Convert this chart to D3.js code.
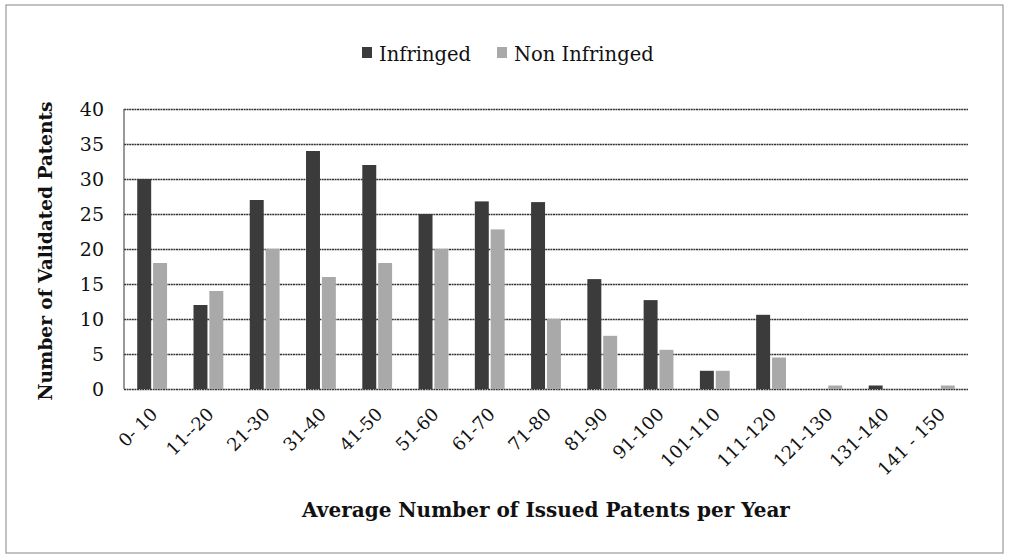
<!DOCTYPE html>
<html><head><meta charset="utf-8">
<script src="https://cdn.jsdelivr.net/npm/d3@7/dist/d3.min.js"></script>
<style>body{margin:0;background:#fff}svg{display:block}</style>
</head><body>
<script>
const categories = ["0- 10","11--20","21-30","31-40","41-50","51-60","61-70","71-80","81-90","91-100","101-110","111-120","121-130","131-140","141 - 150"];
const infringed = [30,12,27,34,32,25,26.8,26.7,15.7,12.7,2.6,10.6,0,0.5,0];
const nonInfringed = [18,14,20,16,18,20,22.8,10,7.6,5.6,2.6,4.5,0.5,0,0.5];
const yTicks = [0,5,10,15,20,25,30,35,40];
const seriesNames = ["Infringed","Non Infringed"];
const colors = ["#3b3b3b","#a9a9a9"];

const W=1009,H=560;
const svg=d3.select("body").append("svg").attr("width",W).attr("height",H);
const font="DejaVu Serif";
svg.append("rect").attr("x",6).attr("y",5).attr("width",997).attr("height",548)
  .attr("fill","none").attr("stroke","#999").attr("stroke-width",1.2);

const m={l:124,r:968,t:109,b:389};
const x=d3.scaleBand().domain(categories).range([m.l,m.r]).paddingInner(0.47).paddingOuter(0.235);
const sub=d3.scaleBand().domain([0,1]).range([0,x.bandwidth()]).paddingInner(0.12);
const y=d3.scaleLinear().domain([0,40]).range([m.b,m.t]);

// gridlines
const gy=svg.append("g").attr("transform",`translate(${m.l},0)`)
  .call(d3.axisLeft(y).tickValues(yTicks).tickSize(-(m.r-m.l)).tickFormat(""));
gy.select(".domain").remove();
gy.selectAll(".tick line").attr("stroke","#333").attr("stroke-width",1.5).attr("stroke-dasharray","2,0.6");
svg.append("line").attr("x1",m.l).attr("x2",m.l).attr("y1",m.t).attr("y2",m.b).attr("stroke","#555").attr("stroke-width",1.2);

// y labels
const yl=svg.append("g").attr("transform",`translate(${m.l-20},0)`)
  .call(d3.axisLeft(y).tickValues(yTicks).tickSize(0).tickPadding(0));
yl.select(".domain").remove();
yl.selectAll("text").attr("font-family",font).attr("font-size",19).attr("fill","#111");

// bars
const data=[infringed,nonInfringed];
data.forEach((vals,si)=>{
  svg.append("g").selectAll("rect").data(categories).join("rect")
    .attr("x",d=>x(d)+sub(si)).attr("width",sub.bandwidth())
    .attr("y",(d,i)=>y(vals[i])).attr("height",(d,i)=>y(0)-y(vals[i]))
    .attr("fill",colors[si]);
});

// x labels
const xa=svg.append("g").attr("transform",`translate(0,${m.b+22})`)
  .call(d3.axisBottom(x).tickSize(0).tickPadding(0));
xa.select(".domain").remove();
xa.selectAll("text").attr("font-family",font).attr("font-size",18).attr("fill","#111")
  .attr("text-anchor","end").attr("dy","0.35em").attr("transform","translate(2,0) rotate(-45)");

// titles
svg.append("text").attr("x",546).attr("y",517).attr("text-anchor","middle")
  .attr("font-family",font).attr("font-weight","bold").attr("font-size",20).attr("fill","#111")
  .text("Average Number of Issued Patents per Year");
svg.append("text").attr("transform",`translate(52,${(m.t+m.b)/2+2}) rotate(-90)`).attr("text-anchor","middle")
  .attr("font-family",font).attr("font-weight","bold").attr("font-size",18.5).attr("fill","#111")
  .text("Number of Validated Patents");

// legend
const lg=svg.append("g");
const lx=[362,497];
seriesNames.forEach((n,i)=>{
  lg.append("rect").attr("x",lx[i]).attr("y",47).attr("width",10).attr("height",11).attr("fill",colors[i]);
  lg.append("text").attr("x",lx[i]+17).attr("y",61).attr("font-family",font).attr("font-size",19.5).attr("fill","#111").text(n);
});
</script>
</body></html>
